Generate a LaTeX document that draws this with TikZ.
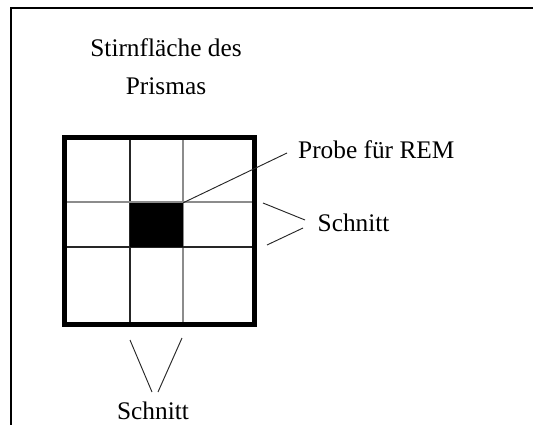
\documentclass[tikz,border=0pt]{standalone}
\usepackage{fontspec}
\setmainfont{Liberation Serif}
\usetikzlibrary{positioning}

\begin{document}
\begin{tikzpicture}[x=0.75pt,y=-0.75pt,font=\fontsize{19}{28.5}\selectfont,every node/.style={align=center},
  cutline/.style={line width=0.8pt,black!85},
  cutlight/.style={line width=1pt,black!45},
  leader/.style={line width=0.7pt,black!85}]
  \useasboundingbox (0,0) rectangle (533,425);
  % page frame
  \draw[line width=1.5pt] (10.5,425) -- (10.5,8) -- (533,8);
  % face of the prism
  \draw[cutline] (130,137.5) -- (130,324.5);
  \draw[cutlight] (183,137.5) -- (183,324.5);
  \draw[cutlight] (64.5,202) -- (254.5,202);
  \draw[cutline] (64.5,247) -- (254.5,247);
  \node[fill,minimum width=39.75pt,minimum height=33pt,inner sep=0] (probe) at (156.5,225) {};
  \draw[line width=4.2pt] (64.5,137.5) rectangle (254.5,324.5);
  % labels
  \node (title) at (166,67) {Stirnfläche des\\Prismas};
  \node[anchor=west] (rem) at (293.5,150) {Probe für REM};
  \node[anchor=west] (cutR) at (313,223) {Schnitt};
  \node (cutB) at (153,411) {Schnitt};
  \coordinate (remEnd) at (287,153);
  \coordinate (hcutA) at (263,203);
  \coordinate (hcutB) at (267,245);
  \coordinate (hcutEndA) at (305,220);
  \coordinate (hcutEndB) at (303,228);
  \coordinate (vcutA) at (130,340);
  \coordinate (vcutB) at (182,338);
  \coordinate (vcutEndA) at (152,392);
  \coordinate (vcutEndB) at (158,392);
  \draw[leader] (probe.north east) -- (remEnd);
  \draw[leader] (hcutA) -- (hcutEndA);\draw[leader] (hcutB) -- (hcutEndB);
  \draw[leader] (vcutA) -- (vcutEndA);\draw[leader] (vcutB) -- (vcutEndB);
\end{tikzpicture}
\end{document}
